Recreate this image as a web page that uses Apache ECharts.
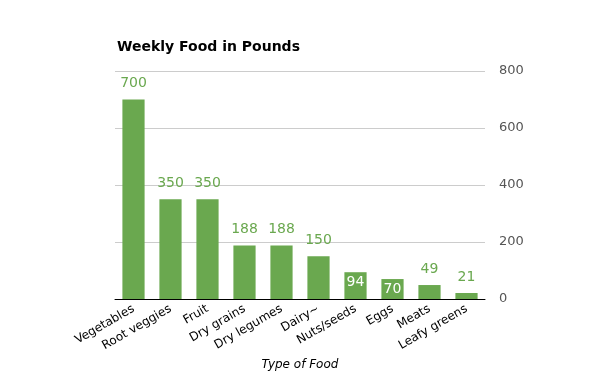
<!DOCTYPE html>
<html><head><meta charset="utf-8">
<script src="https://cdn.jsdelivr.net/npm/echarts@6/dist/echarts.min.js"></script>
<style>html,body{margin:0;padding:0;background:#fff}#c{width:600px;height:371px}</style>
</head><body><div id="c"></div>
<script>
const categories = ['Vegetables','Root veggies','Fruit','Dry grains','Dry legumes','Dairy~','Nuts/seeds','Eggs','Meats','Leafy greens'];
const values = [700,350,350,188,188,150,94,70,49,21];
const yTicks = [0,200,400,600,800];
const insideIdx = [6,7];
const green = '#6aa84f';
const chart = echarts.init(document.getElementById('c'));
chart.setOption({
  animation:false,
  title:{text:'Weekly Food in Pounds',left:112,top:35,textStyle:{fontFamily:'DejaVu Sans',fontSize:14,fontWeight:'bold',color:'#000'}},
  grid:{left:115,right:115,top:71,bottom:72,outerBoundsMode:'none',containLabel:false},
  xAxis:{type:'category',data:categories,
    axisLine:{lineStyle:{color:'#000',width:1}},axisTick:{show:false},
    axisLabel:{rotate:30,interval:0,margin:9,color:'#000',fontFamily:'DejaVu Sans',fontSize:12},
    name:'Type of Food',nameLocation:'middle',nameGap:56,
    nameTextStyle:{fontStyle:'italic',fontFamily:'DejaVu Sans',fontSize:12,color:'#000'}},
  yAxis:{type:'value',position:'right',min:yTicks[0],max:yTicks[yTicks.length-1],interval:200,
    axisLine:{show:false},axisTick:{show:false},
    splitLine:{lineStyle:{color:'#ccc'}},
    axisLabel:{margin:14,color:'#555',fontFamily:'DejaVu Sans',fontSize:13}},
  series:[{type:'bar',barWidth:'60%',itemStyle:{color:green},
    data:values.map((v,i)=>insideIdx.includes(i)?{value:v,label:{position:'insideTop',color:'#fff',distance:3}}:v),
    label:{show:true,position:'top',distance:9,color:green,fontFamily:'DejaVu Sans',fontSize:14}}]
});
</script></body></html>
